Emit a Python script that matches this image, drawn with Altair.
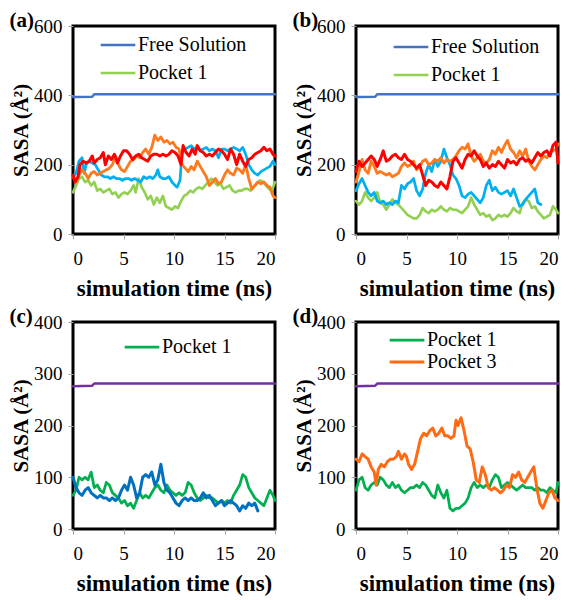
import altair as alt
import pandas as pd

FONT = "Liberation Serif"

# ---------------- data (time in ns, SASA in Å²) ----------------
# panel (a)
a_free = [[0, 395], [1.9, 396], [2.1, 403], [20, 403]]
a_green = [[0,120],[0.3,140],[0.6,160],[0.9,165],[1.2,150],[1.5,155],[1.8,140],[2.1,150],[2.4,125],[2.7,130],[3,120],[3.3,125],[3.6,130],[3.9,115],[4.2,120],[4.5,105],[4.8,115],[5.1,120],[5.4,115],[5.7,125],[6,140],[6.2,120],[6.5,160],[6.8,135],[7.1,120],[7.4,100],[7.7,110],[8,85],[8.3,105],[8.6,90],[8.9,110],[9.2,80],[9.5,75],[9.8,70],[10.1,80],[10.4,75],[10.7,95],[11,110],[11.3,115],[11.6,125],[11.9,120],[12.2,130],[12.5,135],[12.8,130],[13.1,140],[13.4,150],[13.7,160],[14,150],[14.3,140],[14.6,145],[14.9,130],[15.2,135],[15.5,140],[15.8,125],[16.1,120],[16.4,125],[16.7,125],[17,130],[17.3,130],[17.6,125],[17.9,135],[18.2,145],[18.5,155],[18.8,150],[19.1,140],[19.4,130],[19.7,125],[20,150]]
a_cyan = [[0,165],[0.3,175],[0.6,210],[0.9,220],[1.1,175],[1.3,200],[1.6,210],[1.9,205],[2.2,200],[2.5,185],[2.8,170],[3.1,165],[3.4,165],[3.7,160],[4,165],[4.3,160],[4.6,160],[4.9,155],[5.2,160],[5.5,160],[5.8,155],[6.1,160],[6.4,155],[6.7,150],[7,165],[7.3,160],[7.6,165],[7.9,160],[8.2,170],[8.4,185],[8.6,165],[8.9,160],[9.2,160],[9.5,165],[9.8,150],[10.1,140],[10.3,135],[10.6,155],[10.8,240],[11.1,245],[11.4,250],[11.7,255],[12,245],[12.3,250],[12.6,240],[12.9,245],[13.2,250],[13.5,240],[13.8,245],[14.1,240],[14.4,220],[14.7,245],[15,245],[15.3,240],[15.6,245],[15.9,250],[16.2,245],[16.5,240],[16.8,250],[17.1,230],[17.4,200],[17.7,185],[18,175],[18.3,170],[18.6,180],[18.9,185],[19.2,190],[19.5,195],[19.8,210],[20,200]]
a_orange = [[0,165],[0.3,150],[0.6,170],[0.9,185],[1.2,175],[1.5,160],[1.8,175],[2.1,180],[2.4,170],[2.7,175],[3,180],[3.3,185],[3.6,190],[3.9,200],[4.2,225],[4.5,200],[4.8,185],[5.1,180],[5.4,195],[5.7,210],[6,215],[6.3,225],[6.6,220],[6.9,235],[7.2,245],[7.5,230],[7.8,250],[8.1,285],[8.4,270],[8.7,280],[9,265],[9.3,270],[9.6,260],[9.9,265],[10.2,250],[10.5,245],[10.8,200],[11.1,190],[11.4,180],[11.7,195],[12,185],[12.3,210],[12.6,195],[12.9,180],[13.2,165],[13.5,140],[13.8,150],[14.1,160],[14.4,145],[14.7,150],[15,170],[15.3,185],[15.6,175],[15.9,170],[16.2,190],[16.5,185],[16.8,175],[17.1,200],[17.4,160],[17.7,130],[18,140],[18.3,150],[18.6,145],[18.9,150],[19.2,140],[19.5,135],[19.8,110],[20,105]]
a_red = [[0,170],[0.2,150],[0.5,165],[0.7,200],[1,210],[1.3,205],[1.6,210],[1.9,225],[2.1,205],[2.4,215],[2.7,220],[3,235],[3.2,200],[3.5,225],[3.8,215],[4.1,230],[4.4,205],[4.7,225],[5,240],[5.3,240],[5.6,230],[5.9,215],[6.2,225],[6.5,230],[6.8,220],[7.1,215],[7.4,210],[7.7,225],[8,230],[8.3,230],[8.6,225],[8.9,230],[9.2,225],[9.5,230],[9.8,240],[10.1,235],[10.4,225],[10.7,200],[10.9,255],[11.2,235],[11.5,225],[11.8,245],[12.1,230],[12.3,255],[12.6,240],[12.9,235],[13.2,225],[13.5,230],[13.8,225],[14.1,235],[14.4,245],[14.7,240],[15,230],[15.3,215],[15.6,245],[15.9,230],[16.2,200],[16.5,230],[16.8,210],[17.1,195],[17.4,215],[17.7,220],[18,230],[18.3,235],[18.6,240],[18.9,250],[19.2,240],[19.5,245],[19.8,230],[20,225]]

# panel (b)
b_free = [[0, 395], [1.9, 396], [2.1, 403], [20, 403]]
b_green = [[0,95],[0.3,85],[0.6,95],[0.9,120],[1.2,105],[1.5,95],[1.8,105],[2.1,120],[2.4,90],[2.7,85],[3,70],[3.3,85],[3.6,100],[3.9,90],[4.2,85],[4.5,75],[4.8,65],[5.1,55],[5.4,50],[5.7,45],[6,45],[6.3,55],[6.6,75],[6.9,65],[7.2,60],[7.5,70],[7.8,65],[8.1,70],[8.4,80],[8.7,70],[9,65],[9.3,75],[9.6,70],[9.9,70],[10.2,65],[10.5,60],[10.8,70],[11.1,80],[11.4,105],[11.7,85],[12,70],[12.3,55],[12.6,60],[12.9,50],[13.2,55],[13.5,40],[13.8,45],[14.1,55],[14.4,50],[14.7,55],[15,50],[15.3,60],[15.6,75],[15.9,65],[16.2,60],[16.5,90],[16.8,100],[17.1,95],[17.4,75],[17.7,80],[18,65],[18.3,55],[18.6,45],[18.9,50],[19.2,55],[19.5,80],[19.8,70],[20,60]]
b_cyan = [[0,125],[0.3,145],[0.6,160],[0.9,140],[1.2,120],[1.5,110],[1.8,120],[2.1,95],[2.4,90],[2.7,95],[3,85],[3.3,90],[3.6,85],[3.9,95],[4.2,90],[4.5,140],[4.8,130],[5.1,145],[5.4,150],[5.7,160],[6,125],[6.3,110],[6.6,130],[6.9,175],[7.2,200],[7.5,180],[7.8,215],[8.1,195],[8.4,210],[8.7,245],[9,220],[9.3,200],[9.6,170],[9.9,160],[10.2,140],[10.5,110],[10.8,105],[11.1,115],[11.4,120],[11.7,110],[12,100],[12.3,90],[12.6,105],[12.9,140],[13.2,155],[13.5,125],[13.8,135],[14.1,120],[14.4,115],[14.7,120],[15,125],[15.3,110],[15.6,130],[15.9,105],[16.2,80],[16.5,85],[16.8,100],[17.1,110],[17.4,120],[17.7,130],[18,90],[18.3,85]]
b_orange = [[0,150],[0.3,180],[0.6,215],[0.9,185],[1.2,175],[1.5,210],[1.8,195],[2.1,175],[2.4,180],[2.7,175],[3,170],[3.3,175],[3.6,165],[3.9,170],[4.2,175],[4.5,195],[4.8,205],[5.1,195],[5.4,200],[5.7,210],[6,185],[6.3,195],[6.6,210],[6.9,215],[7.2,200],[7.5,205],[7.8,215],[8.1,210],[8.4,220],[8.7,205],[9,215],[9.3,210],[9.6,215],[9.9,225],[10.2,240],[10.5,250],[10.8,245],[11.1,260],[11.4,225],[11.7,210],[12,220],[12.3,230],[12.6,210],[12.9,205],[13.2,215],[13.5,240],[13.8,230],[14.1,250],[14.4,235],[14.7,255],[15,270],[15.3,245],[15.6,235],[15.9,220],[16.2,240],[16.5,225],[16.8,245],[17.1,210],[17.4,195],[17.7,185],[18,200],[18.3,215],[18.6,225],[18.9,220],[19.2,235],[19.5,240],[19.8,245],[20,260]]
b_red = [[0,180],[0.3,210],[0.6,195],[0.9,205],[1.2,215],[1.5,225],[1.8,215],[2.1,195],[2.4,215],[2.7,240],[3,210],[3.3,215],[3.6,225],[3.9,230],[4.2,220],[4.5,215],[4.8,230],[5.1,215],[5.4,210],[5.7,200],[6,190],[6.3,200],[6.6,170],[6.9,140],[7.2,155],[7.5,150],[7.8,140],[8.1,135],[8.4,150],[8.7,140],[9,130],[9.3,165],[9.6,210],[9.9,220],[10.2,205],[10.5,190],[10.8,215],[11.1,230],[11.4,225],[11.7,240],[12,225],[12.3,215],[12.6,195],[12.9,205],[13.2,190],[13.5,200],[13.8,195],[14.1,210],[14.4,200],[14.7,190],[15,215],[15.3,205],[15.6,210],[15.9,200],[16.2,215],[16.5,220],[16.8,210],[17.1,215],[17.4,205],[17.7,220],[18,235],[18.3,225],[18.6,235],[18.9,240],[19.2,225],[19.5,255],[19.8,265],[20,205]]

# panel (c)
c_purple = [[0, 276], [1.9, 277], [2.1, 281], [20, 281]]
c_green = [[0,65],[0.3,75],[0.6,100],[0.9,95],[1.2,100],[1.5,95],[1.8,110],[2.1,80],[2.4,85],[2.7,75],[3,70],[3.3,90],[3.6,85],[3.9,70],[4.2,65],[4.5,60],[4.8,50],[5.1,55],[5.4,45],[5.7,50],[6,40],[6.3,55],[6.6,70],[6.9,60],[7.2,65],[7.5,60],[7.8,70],[8.1,80],[8.4,85],[8.7,75],[9,70],[9.3,85],[9.6,75],[9.9,70],[10.2,65],[10.5,70],[10.8,65],[11.1,70],[11.4,90],[11.7,85],[12,70],[12.3,60],[12.6,55],[12.9,60],[13.2,65],[13.5,60],[13.8,60],[14.1,55],[14.4,50],[14.7,55],[15,50],[15.3,55],[15.6,50],[15.9,65],[16.2,75],[16.5,85],[16.8,105],[17.1,100],[17.4,80],[17.7,70],[18,60],[18.3,55],[18.6,50],[18.9,45],[19.2,60],[19.5,75],[19.8,65],[20,55]]
c_blue = [[0,100],[0.3,80],[0.6,70],[0.9,65],[1.2,75],[1.5,80],[1.8,70],[2.1,65],[2.4,60],[2.7,65],[3,60],[3.3,60],[3.6,55],[3.9,60],[4.2,55],[4.5,60],[4.8,75],[5.1,85],[5.4,75],[5.7,100],[6,85],[6.3,60],[6.6,70],[6.9,100],[7.2,105],[7.5,100],[7.8,110],[8.1,85],[8.4,95],[8.7,125],[9,90],[9.3,75],[9.6,70],[9.9,60],[10.2,50],[10.5,45],[10.8,55],[11.1,60],[11.4,55],[11.7,60],[12,55],[12.3,55],[12.6,60],[12.9,70],[13.2,60],[13.5,65],[13.8,55],[14.1,45],[14.4,50],[14.7,55],[15,45],[15.3,50],[15.6,55],[15.9,50],[16.2,45],[16.5,35],[16.8,45],[17.1,40],[17.4,50],[17.7,45],[18,50],[18.3,35]]

# panel (d)
d_purple = [[0, 276], [1.9, 277], [2.1, 281], [20, 281]]
d_green = [[0,75],[0.3,95],[0.6,100],[0.9,80],[1.2,75],[1.5,85],[1.8,90],[2.1,85],[2.4,100],[2.7,95],[3,85],[3.3,80],[3.6,90],[3.9,80],[4.2,85],[4.5,75],[4.8,70],[5.1,75],[5.4,80],[5.7,80],[6,85],[6.3,80],[6.6,90],[6.9,85],[7.2,75],[7.5,65],[7.8,60],[8.1,85],[8.4,70],[8.7,60],[9,75],[9.3,40],[9.6,35],[9.9,40],[10.2,40],[10.5,45],[10.8,50],[11.1,60],[11.4,80],[11.7,90],[12,80],[12.3,85],[12.6,80],[12.9,85],[13.2,80],[13.5,95],[13.8,105],[14.1,100],[14.4,80],[14.7,85],[15,90],[15.3,85],[15.6,80],[15.9,75],[16.2,80],[16.5,85],[16.8,80],[17.1,80],[17.4,80],[17.7,75],[18,80],[18.3,75],[18.6,75],[18.9,70],[19.2,80],[19.5,75],[19.8,70],[20,90]]
d_orange = [[0,135],[0.3,130],[0.6,145],[0.9,140],[1.2,135],[1.5,120],[1.8,110],[2,85],[2.2,115],[2.5,125],[2.8,120],[3.1,130],[3.4,135],[3.7,135],[4,140],[4.2,150],[4.5,135],[4.8,145],[5,140],[5.2,125],[5.5,115],[5.8,125],[6.1,150],[6.4,175],[6.7,185],[7,180],[7.3,190],[7.6,195],[7.9,180],[8.2,185],[8.5,195],[8.8,180],[9.1,180],[9.4,175],[9.7,180],[9.9,210],[10.1,200],[10.4,215],[10.7,190],[11,160],[11.3,155],[11.6,130],[11.9,95],[12.2,90],[12.5,120],[12.8,105],[13.1,80],[13.4,75],[13.7,80],[14,75],[14.3,70],[14.6,75],[14.9,85],[15.2,80],[15.5,105],[15.8,100],[16.1,110],[16.4,95],[16.7,90],[17,100],[17.3,110],[17.6,120],[17.9,80],[18.2,50],[18.5,40],[18.8,55],[19.1,70],[19.4,75],[19.7,60],[20,55]]

X_TICKS = [0, 5, 10, 15, 20]
Y_TICKS_TOP = [0, 200, 400, 600]
Y_TICKS_BOTTOM = [0, 100, 200, 300, 400]


def frame(series):
    rows = []
    for name, pts in series:
        for t, v in pts:
            rows.append({"s": name, "t": t, "v": v})
    return pd.DataFrame(rows)


def panel(label, series, colors, widths, ymax, yticks, legend_vals, lx, ly, clip, h):
    df = frame(series)
    names = [n for n, _ in series]
    return alt.Chart(df, title=alt.Title(
        label, anchor="start", frame="bounds", font=FONT, fontSize=21,
        fontWeight="bold", color="black", offset=-14, dx=-1)).mark_line(
        strokeJoin="round", strokeCap="round").encode(
        x=alt.X("t:Q", scale=alt.Scale(domain=[0, 20], nice=False),
                axis=alt.Axis(values=X_TICKS, title="simulation time (ns)")),
        y=alt.Y("v:Q", scale=alt.Scale(domain=[0, ymax], nice=False),
                axis=alt.Axis(values=yticks, title="SASA (Å²)")),
        color=alt.Color("s:N", sort=names,
                        scale=alt.Scale(domain=names, range=colors),
                        legend=alt.Legend(values=legend_vals, orient="none",
                                          legendX=lx, legendY=ly, title=None,
                                          rowPadding=0, clipHeight=clip)),
        strokeWidth=alt.StrokeWidth("s:N", scale=alt.Scale(domain=names, range=widths), legend=None),
        order="t:Q",
    ).properties(width=202, height=h)


pa = panel("(a)",
           [("Free Solution", a_free), ("Pocket 1", a_green), ("a3", a_cyan), ("a4", a_orange), ("a5", a_red)],
           ["#4472C4", "#92D050", "#00B0F0", "#FF7A1F", "#FF0000"], [2.5, 3, 3, 3, 3],
           600, Y_TICKS_TOP, ["Free Solution", "Pocket 1"], 26, 5, 28, 208)
pb = panel("(b)",
           [("Free Solution", b_free), ("Pocket 1", b_green), ("b3", b_cyan), ("b4", b_orange), ("b5", b_red)],
           ["#4472C4", "#92D050", "#00B0F0", "#FF7A1F", "#FF0000"], [2.5, 3, 3, 3, 3],
           600, Y_TICKS_TOP, ["Free Solution", "Pocket 1"], 36, 7, 28, 208)
pc = panel("(c)",
           [("c1", c_purple), ("Pocket 1", c_green), ("c3", c_blue)],
           ["#7030A0", "#00B050", "#0070C0"], [2.5, 3, 3],
           400, Y_TICKS_BOTTOM, ["Pocket 1"], 50, 11, 28, 207)
pd_ = panel("(d)",
            [("d1", d_purple), ("Pocket 1", d_green), ("Pocket 3", d_orange)],
            ["#7030A0", "#00B050", "#FF6A13"], [2.5, 3, 3],
            400, Y_TICKS_BOTTOM, ["Pocket 1", "Pocket 3"], 32, 7, 22, 207)

top = alt.hconcat(pa, pb, spacing=13).resolve_scale(color="independent", strokeWidth="independent").resolve_legend(color="independent")
bottom = alt.hconcat(pc, pd_, spacing=13).resolve_scale(color="independent", strokeWidth="independent").resolve_legend(color="independent")

chart = alt.vconcat(top, bottom, spacing=2).resolve_scale(
    color="independent", strokeWidth="independent").resolve_legend(color="independent").properties(
    padding={"left": 0, "top": 0, "right": 0, "bottom": 0}
).configure(font=FONT).configure_view(
    stroke="black", strokeWidth=3
).configure_axis(
    domain=False, grid=False, ticks=True, tickColor="#A6A6A6", tickSize=5, tickWidth=1,
    labelFont=FONT, labelColor="black", titleFont=FONT, titleColor="black",
    titleFontWeight="bold"
).configure_axisX(
    labelFontSize=19, labelPadding=10, titleFontSize=23, titlePadding=9
).configure_axisY(
    labelFontSize=19, labelPadding=6, titleFontSize=21, titlePadding=2
).configure_legend(
    labelFont=FONT, labelFontSize=20, labelColor="black", symbolType="stroke",
    symbolSize=1200, symbolStrokeWidth=3, labelOffset=1, padding=0
).configure_title(font=FONT)

chart.save("out.html", embed_options={"renderer": "svg", "actions": False})
